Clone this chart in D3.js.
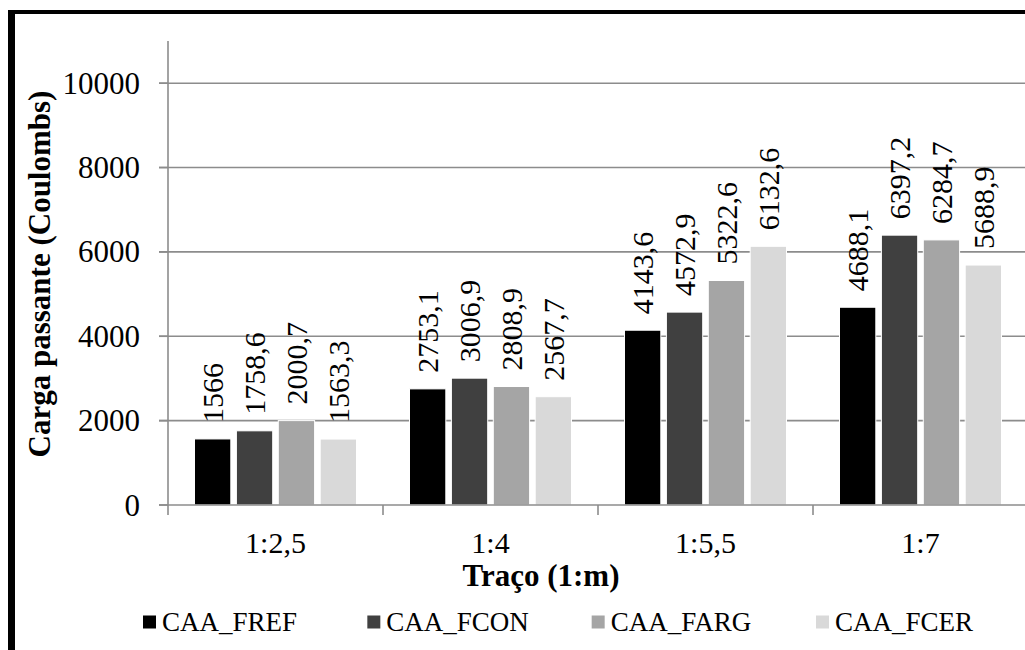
<!DOCTYPE html>
<html>
<head>
<meta charset="utf-8">
<script src="https://cdn.jsdelivr.net/npm/d3@7"></script>
<style>
  html, body { margin: 0; padding: 0; background: #fff; }
  svg { display: block; }
</style>
</head>
<body>
<svg id="chart" width="1025" height="650"></svg>
<script>
const categories = ["1:2,5", "1:4", "1:5,5", "1:7"];
const seriesNames = ["CAA_FREF", "CAA_FCON", "CAA_FARG", "CAA_FCER"];
const CAA_FREF = [1566, 2753.1, 4143.6, 4688.1];
const CAA_FCON = [1758.6, 3006.9, 4572.9, 6397.2];
const CAA_FARG = [2000.7, 2808.9, 5322.6, 6284.7];
const CAA_FCER = [1563.3, 2567.7, 6132.6, 5688.9];
const seriesColors = ["#000000", "#404040", "#a5a5a5", "#d9d9d9"];
const yTicks = [0, 2000, 4000, 6000, 8000, 10000];
const labelText = ["1566", "1758,6", "2000,7", "1563,3", "2753,1", "3006,9", "2808,9", "2567,7",
                   "4143,6", "4572,9", "5322,6", "6132,6", "4688,1", "6397,2", "6284,7", "5688,9"];

const seriesValues = [CAA_FREF, CAA_FCON, CAA_FARG, CAA_FCER];
const svg = d3.select("#chart");

function serif(sel, size, bold) {
  sel.style("font-family", '"Liberation Serif"').attr("font-size", size).attr("fill", "#000");
  if (bold) sel.attr("font-weight", "bold");
  return sel;
}

const plotLeft = 168, plotRight = 1028, plotBottom = 505, plotTop = 41;
const y = d3.scaleLinear().domain([0, 11000]).range([plotBottom, plotTop]);
const x = d3.scaleBand().domain(categories).range([plotLeft, plotRight]).paddingInner(0).paddingOuter(0);
const inner = d3.scaleBand().domain(seriesNames).range([26.5, x.bandwidth() - 26.5]).paddingInner(0.133).paddingOuter(0);

const grid = "#8c8c8c";

svg.append("g").selectAll("line").data(yTicks.filter(d => d > 0)).join("line")
  .attr("x1", plotLeft - 9).attr("x2", plotRight)
  .attr("y1", d => y(d)).attr("y2", d => y(d))
  .attr("stroke", grid).attr("stroke-width", 1.6);

const barData = [];
categories.forEach((c, ci) => {
  seriesNames.forEach((s, si) => {
    barData.push({ c, s, si, v: seriesValues[si][ci], label: labelText[ci * 4 + si] });
  });
});

svg.append("g").selectAll("rect").data(barData).join("rect")
  .attr("x", d => x(d.c) + inner(d.s))
  .attr("width", inner.bandwidth())
  .attr("y", d => y(d.v))
  .attr("height", d => y(0) - y(d.v))
  .attr("fill", d => seriesColors[d.si])
  .attr("stroke", "#fff").attr("stroke-width", 1);

// data labels
serif(svg.append("g").selectAll("text").data(barData).join("text")
  .attr("transform", d => `translate(${x(d.c) + inner(d.s) + inner.bandwidth() / 2},${y(d.v) - 16}) rotate(-90)`)
  .attr("dy", "0.34em")
  .attr("text-anchor", "start"), 30)
  .text(d => d.label);

// y axis labels and ticks
svg.append("g").selectAll("line").data(yTicks).join("line")
  .attr("x1", plotLeft - 9).attr("x2", plotLeft).attr("y1", d => y(d)).attr("y2", d => y(d))
  .attr("stroke", grid).attr("stroke-width", 1.6);
serif(svg.append("g").selectAll("text").data(yTicks).join("text")
  .attr("x", plotLeft - 28).attr("y", d => y(d)).attr("dy", "0.34em").attr("text-anchor", "end"), 31)
  .text(d => d3.format("d")(d));
svg.append("line").attr("x1", plotLeft).attr("x2", plotLeft).attr("y1", plotTop).attr("y2", plotBottom + 10)
  .attr("stroke", grid).attr("stroke-width", 1.6);

// x axis
svg.append("line").attr("x1", plotLeft - 9).attr("x2", plotRight).attr("y1", plotBottom).attr("y2", plotBottom)
  .attr("stroke", grid).attr("stroke-width", 1.6);
const boundaries = categories.map(c => x(c) + x.bandwidth()).slice(0, 3);
svg.append("g").selectAll("line").data(boundaries).join("line")
  .attr("x1", d => d).attr("x2", d => d).attr("y1", plotBottom).attr("y2", plotBottom + 10)
  .attr("stroke", grid).attr("stroke-width", 1.6);
serif(svg.append("g").selectAll("text").data(categories).join("text")
  .attr("x", d => x(d) + x.bandwidth() / 2).attr("y", 553)
  .attr("text-anchor", "middle"), 30).text(d => d);

// axis titles
serif(svg.append("text").attr("x", 541).attr("y", 586).attr("text-anchor", "middle"), 31, true).text("Traço (1:m)");
serif(svg.append("text").attr("transform", "translate(50,274) rotate(-90)").attr("text-anchor", "middle"), 31, true)
  .text("Carga passante (Coulombs)");

// legend
const legendX = d3.scalePoint().domain(seriesNames).range([143, 816]);
const leg = svg.append("g").selectAll("g").data(seriesNames).join("g")
  .attr("transform", d => `translate(${legendX(d)},622)`);
leg.append("rect").attr("x", 0).attr("y", -6.5).attr("width", 13).attr("height", 13)
  .attr("fill", (d, i) => seriesColors[i]);
serif(leg.append("text").attr("x", 19).attr("dy", "0.34em"), 27).text(d => d);

svg.append("line").attr("x1", 11.5).attr("x2", 11.5).attr("y1", 10).attr("y2", 650).attr("stroke", "#000").attr("stroke-width", 7);
svg.append("line").attr("x1", 8).attr("x2", 1025).attr("y1", 12).attr("y2", 12).attr("stroke", "#000").attr("stroke-width", 4);
</script>
</body>
</html>
